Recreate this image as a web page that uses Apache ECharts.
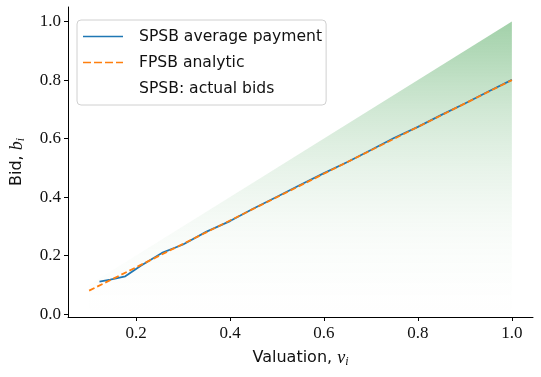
<!DOCTYPE html>
<html>
<head>
<meta charset="utf-8">
<script src="https://cdn.jsdelivr.net/npm/echarts@6/dist/echarts.min.js"></script>
<style>
  html, body { margin: 0; padding: 0; background: #fff; }
  #chart { width: 541px; height: 377px; }
</style>
</head>
<body>
<div id="chart"></div>
<script>
// SPSB average payment (blue)
const spsbX = [0.122, 0.145, 0.177, 0.21, 0.255, 0.3, 0.35, 0.4, 0.45, 0.5, 0.55, 0.6, 0.65, 0.7, 0.75, 0.8, 0.85, 0.9, 0.95, 1.0]
const spsbY = [0.111, 0.118, 0.129, 0.165, 0.209, 0.238, 0.282, 0.318, 0.361, 0.401, 0.442, 0.482, 0.52, 0.561, 0.603, 0.64, 0.681, 0.72, 0.761, 0.801]
// FPSB analytic (orange dashed)
const fpsbX = [0.1, 1.0]
const fpsbY = [0.08, 0.8]
// outline of the cloud of actual bids (upper edge)
const cloudX = [0.1, 1.0]
const cloudY = [0.1, 1.0]
const tickValues = [0.2, 0.4, 0.6, 0.8, 1.0]
const yTickValues = [0, 0.2, 0.4, 0.6, 0.8, 1.0]

const green = 'rgba(44,150,60,'

const nameRich = {
  a: { fontFamily: 'DejaVu Sans', fontSize: 16, color: '#111' },
  m: { fontFamily: 'Liberation Serif', fontStyle: 'italic', fontSize: 18, color: '#111' },
  s: { fontFamily: 'Liberation Serif', fontStyle: 'italic', fontSize: 12, color: '#111', padding: [8, 0, 0, 0] }
}

const chart = echarts.init(document.getElementById('chart'))
chart.setOption({
  animation: false,
  grid: { left: 68, right: 8, top: 7, bottom: 60, outerBoundsMode: 'none', containLabel: false },
  legend: {
    left: 77,
    top: 20,
    orient: 'vertical',
    itemGap: 7,
    itemWidth: 40,
    itemHeight: 19,
    padding: [7, 4, 7, 6],
    borderColor: '#d0d0d0',
    borderWidth: 1,
    borderRadius: 4,
    backgroundColor: 'rgba(255,255,255,0.85)',
    textStyle: { fontFamily: 'DejaVu Sans', fontSize: 15.6, color: '#111', padding: [0, 0, 0, 11], lineHeight: 19 },
    data: [
      { name: 'SPSB average payment', icon: 'path://M0,9L40,9L40,10.5L0,10.5Z' },
      { name: 'FPSB analytic', icon: 'path://M0,9L8,9L8,10.5L0,10.5ZM11,9L19,9L19,10.5L11,10.5ZM22,9L30,9L30,10.5L22,10.5ZM33,9L40,9L40,10.5L33,10.5Z' },
      { name: 'SPSB: actual bids', icon: 'rect', itemStyle: { opacity: 0 } }
    ]
  },
  xAxis: {
    type: 'value',
    min: 0.055,
    max: 1.045,
    splitLine: { show: false },
    axisLine: { onZero: false, lineStyle: { color: '#000', width: 1 } },
    axisTick: { length: 4, lineStyle: { color: '#000' }, customValues: tickValues },
    axisLabel: {
      fontFamily: 'Liberation Serif', fontSize: 17, color: '#111', margin: 8,
      customValues: tickValues,
      formatter: v => v.toFixed(1)
    },
    name: '{a|Valuation, }{m|v}{s|i}',
    nameLocation: 'middle',
    nameGap: 31,
    nameTextStyle: { rich: nameRich }
  },
  yAxis: {
    type: 'value',
    min: -0.01,
    max: 1.05,
    splitLine: { show: false },
    axisLine: { show: true, onZero: false, lineStyle: { color: '#000', width: 1 } },
    axisTick: { show: true, length: 4, lineStyle: { color: '#000' }, customValues: yTickValues },
    axisLabel: {
      fontFamily: 'Liberation Serif', fontSize: 17, color: '#111', margin: 7,
      customValues: yTickValues,
      formatter: v => v.toFixed(1)
    },
    name: '{a|Bid, }{m|b}{s|i}',
    nameLocation: 'middle',
    nameGap: 41,
    nameTextStyle: { rich: nameRich }
  },
  series: [
    {
      name: 'SPSB: actual bids',
      type: 'line',
      symbol: 'none',
      z: 1,
      lineStyle: { width: 0 },
      itemStyle: { color: 'rgba(44,160,44,0.3)' },
      areaStyle: {
        origin: 'start',
        opacity: 1,
        color: new echarts.graphic.LinearGradient(0, 0, 0, 1, [
          { offset: 0, color: green + '0.44)' },
          { offset: 0.1, color: green + '0.37)' },
          { offset: 0.2, color: green + '0.29)' },
          { offset: 0.3, color: green + '0.22)' },
          { offset: 0.4, color: green + '0.16)' },
          { offset: 0.5, color: green + '0.11)' },
          { offset: 0.6, color: green + '0.07)' },
          { offset: 0.7, color: green + '0.04)' },
          { offset: 0.8, color: green + '0.018)' },
          { offset: 0.9, color: green + '0.006)' },
          { offset: 1, color: green + '0)' }
        ])
      },
      data: cloudX.map((x, i) => [x, cloudY[i]])
    },
    {
      name: 'SPSB average payment',
      type: 'line',
      symbol: 'none',
      z: 3,
      color: '#1f77b4',
      lineStyle: { width: 1.8, color: '#1f77b4' },
      data: spsbX.map((x, i) => [x, spsbY[i]])
    },
    {
      name: 'FPSB analytic',
      type: 'line',
      symbol: 'none',
      z: 4,
      color: '#ff7f0e',
      lineStyle: { width: 1.8, color: '#ff7f0e', type: [6, 3] },
      data: fpsbX.map((x, i) => [x, fpsbY[i]])
    }
  ]
})
</script>
</body>
</html>
